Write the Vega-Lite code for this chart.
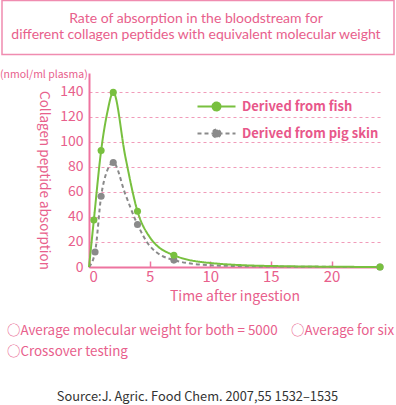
{
  "$schema": "https://vega.github.io/schema/vega-lite/v6.json",
  "width": 291,
  "height": 194,
  "autosize": {"type": "none"},
  "padding": {"left": 89, "top": 73, "right": 16, "bottom": 138},
  "background": "white",
  "config": {
    "view": {"stroke": null},
    "font": "Noto Sans CJK JP"
  },
  "layer": [
    {
      "data": {"values": [
        {"series": "Derived from pig skin", "t": 0, "v": 0, "marker": false},
        {"series": "Derived from pig skin", "t": 0.5, "v": 12, "marker": true},
        {"series": "Derived from pig skin", "t": 1, "v": 56.5, "marker": true},
        {"series": "Derived from pig skin", "t": 1.5, "v": 77, "marker": false},
        {"series": "Derived from pig skin", "t": 2, "v": 83.5, "marker": true},
        {"series": "Derived from pig skin", "t": 3, "v": 58, "marker": false},
        {"series": "Derived from pig skin", "t": 4, "v": 34, "marker": true},
        {"series": "Derived from pig skin", "t": 5, "v": 17, "marker": false},
        {"series": "Derived from pig skin", "t": 7, "v": 5.5, "marker": true},
        {"series": "Derived from pig skin", "t": 10, "v": 1.4, "marker": false},
        {"series": "Derived from pig skin", "t": 15, "v": 0.4, "marker": false},
        {"series": "Derived from pig skin", "t": 24, "v": 0, "marker": true},
        {"series": "Derived from fish", "t": 0, "v": 0, "marker": false},
        {"series": "Derived from fish", "t": 0.4, "v": 37.5, "marker": true},
        {"series": "Derived from fish", "t": 1, "v": 93, "marker": true},
        {"series": "Derived from fish", "t": 1.5, "v": 123, "marker": false},
        {"series": "Derived from fish", "t": 2, "v": 139.5, "marker": true},
        {"series": "Derived from fish", "t": 3, "v": 88, "marker": false},
        {"series": "Derived from fish", "t": 4, "v": 44.5, "marker": true},
        {"series": "Derived from fish", "t": 5, "v": 24, "marker": false},
        {"series": "Derived from fish", "t": 7, "v": 9.4, "marker": true},
        {"series": "Derived from fish", "t": 10, "v": 3.2, "marker": false},
        {"series": "Derived from fish", "t": 15, "v": 0.8, "marker": false},
        {"series": "Derived from fish", "t": 24, "v": 0, "marker": true}
      ]},
      "layer": [
        {
          "mark": {"type": "line", "interpolate": "monotone", "strokeWidth": 2},
          "encoding": {
            "x": {
              "field": "t", "type": "quantitative",
              "scale": {"domain": [0, 24], "nice": false, "zero": true},
              "axis": {
                "values": [0, 5, 10, 15, 20],
                "title": "Time after ingestion",
                "titleColor": "#e8608c", "titleFontSize": 14, "titleFontWeight": "normal",
                "titlePadding": 5,
                "labelColor": "#e8608c", "labelFontSize": 15,
                "labelPadding": 8, "labelOverlap": false,
                "domainColor": "#ee74a0", "domainWidth": 2,
                "tickColor": "#ee74a0", "tickSize": -6, "tickWidth": 1.5,
                "grid": false
              }
            },
            "y": {
              "field": "v", "type": "quantitative",
              "scale": {"domain": [0, 155], "nice": false},
              "axis": {
                "tickCount": 8,
                "values": [0, 20, 40, 60, 80, 100, 120, 140],
                "title": "Collagen peptide absorption",
                "titleAngle": 90, "titleX": -46, "titleY": 107,
                "titleAlign": "center", "titleBaseline": "middle",
                "titleColor": "#e8608c", "titleFontSize": 13.5, "titleFontWeight": "normal",
                "labelColor": "#e8608c", "labelFontSize": 14, "labelPadding": 6,
                "labelOverlap": false,
                "ticks": false,
                "domainColor": "#ee74a0", "domainWidth": 2,
                "grid": true, "gridColor": "#f19bb9", "gridDash": [3, 3], "gridWidth": 1
              }
            },
            "color": {
              "field": "series", "type": "nominal",
              "scale": {"domain": ["Derived from fish", "Derived from pig skin"], "range": ["#78c03f", "#8a8a8a"]},
              "legend": {
                "title": null,
                "orient": "none", "legendX": 121, "legendY": 27,
                "symbolType": "M-4.75,0H4.75M1,0A1,1,0,1,1,-1,0A1,1,0,1,1,1,0Z",
                "symbolSize": 64, "symbolStrokeWidth": 2,
                "labelOffset": 19, "labelColor": "#e8578a", "labelFontSize": 13,
                "labelFontWeight": "bold", "rowPadding": 10, "padding": 0,
                "encode": {"symbols": {"update": {"fill": {"scale": "color", "field": "value"}, "stroke": {"scale": "color", "field": "value"}}}}
              }
            },
            "strokeDash": {
              "field": "series", "type": "nominal",
              "scale": {"domain": ["Derived from fish", "Derived from pig skin"], "range": [[1, 0], [4, 3]]},
              "legend": null
            },
            "order": {"field": "t", "type": "quantitative"}
          }
        },
        {
          "transform": [{"filter": "datum.marker"}],
          "mark": {"type": "circle", "size": 50, "opacity": 1},
          "encoding": {
            "x": {"field": "t", "type": "quantitative", "axis": {"values": [0, 5, 10, 15, 20]}},
            "y": {"field": "v", "type": "quantitative", "axis": {"values": [0, 20, 40, 60, 80, 100, 120, 140], "tickCount": 8, "labelOverlap": false}},
            "color": {"field": "series", "type": "nominal"}
          }
        }
      ]
    },
    {
      "data": {"values": [{"text": "Rate of absorption in the bloodstream for\ndifferent collagen peptides with equivalent molecular weight"}]},
      "mark": {"type": "text", "lineBreak": "\n", "align": "center", "baseline": "middle", "font": "Lato", "fontSize": 14, "lineHeight": 16.8, "color": "#e8608c"},
      "encoding": {"text": {"field": "text"}, "x": {"value": 107}, "y": {"value": -54.5}}
    },
    {
      "data": {"values": [{"box": 1}]},
      "mark": {"type": "rect", "fill": null, "stroke": "#f08cb0", "strokeWidth": 1.5},
      "encoding": {"x": {"value": -87}, "x2": {"value": 305}, "y": {"value": -72.5}, "y2": {"value": -18.5}}
    },
    {
      "data": {"values": [{"text": "(nmol/ml plasma)"}]},
      "mark": {"type": "text", "align": "left", "baseline": "middle", "fontSize": 10.5, "color": "#e8608c"},
      "encoding": {"text": {"field": "text"}, "x": {"value": -89}, "y": {"value": 2}}
    },
    {
      "data": {"values": [{"text": "○Average molecular weight for both = 5000　○Average for six\n○Crossover testing"}]},
      "mark": {"type": "text", "lineBreak": "\n", "align": "left", "baseline": "middle", "fontSize": 13.4, "lineHeight": 21, "color": "#e8608c"},
      "encoding": {"text": {"field": "text"}, "x": {"value": -82}, "y": {"value": 257.7}}
    },
    {
      "data": {"values": [{"text": "Source:J. Agric. Food Chem. 2007,55 1532–1535"}]},
      "mark": {"type": "text", "align": "center", "baseline": "middle", "fontSize": 12.8, "color": "#333333"},
      "encoding": {"text": {"field": "text"}, "x": {"value": 108.5}, "y": {"value": 324}}
    }
  ]
}
